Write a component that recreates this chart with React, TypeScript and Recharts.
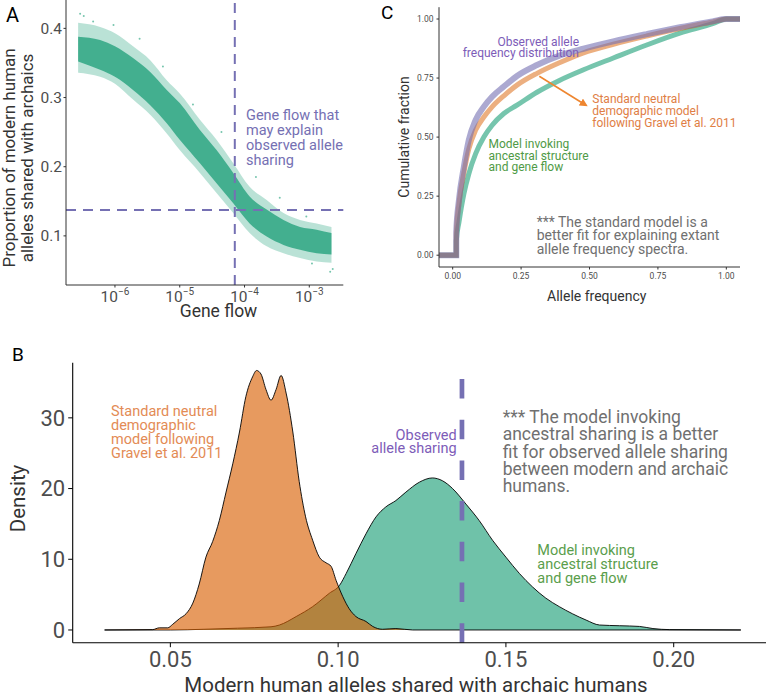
import React from "react";
import {
  ComposedChart, Area, Line, Scatter, XAxis, YAxis, ReferenceLine,
} from "recharts";

const FONT = "Roboto, 'Open Sans', sans-serif";
const PURPLE = "#7570b3";
const GREEN = "#1b9e77";
const ORANGE = "#d95f02";
const TICK = "#4d4d4d";
const TITLE = "#333333";

// ---------- Panel A: gene flow vs proportion shared (cloud read as envelopes)
const aGeneFlow = [2.7e-7, 5.9e-7, 1e-6, 1.9e-6, 3.5e-6, 6.3e-6, 1e-5, 2.05e-5, 3.7e-5, 6.7e-5, 1.2e-4, 2.2e-4, 4e-4, 7.2e-4, 1.3e-3, 2.2e-3];
const aCoreLow = [0.352, 0.340, 0.330, 0.311, 0.289, 0.263, 0.239, 0.205, 0.176, 0.147, 0.118, 0.099, 0.087, 0.080, 0.075, 0.073];
const aCoreHigh = [0.388, 0.383, 0.374, 0.357, 0.337, 0.311, 0.292, 0.253, 0.224, 0.191, 0.157, 0.138, 0.123, 0.113, 0.109, 0.104];
const aOuterLow = [0.336, 0.330, 0.320, 0.297, 0.275, 0.248, 0.224, 0.191, 0.162, 0.133, 0.104, 0.085, 0.075, 0.068, 0.063, 0.061];
const aOuterHigh = [0.408, 0.402, 0.393, 0.374, 0.354, 0.325, 0.306, 0.268, 0.239, 0.205, 0.171, 0.152, 0.133, 0.123, 0.118, 0.113];
const aStrayGf = [2.9e-7, 3.3e-7, 4.6e-7, 9.5e-7, 2.4e-6, 5.5e-6, 1.6e-5, 4.4e-5, 1.5e-4, 3.5e-4, 9e-4, 2.1e-3, 2.3e-3, 1.1e-3];
const aStrayP = [0.421, 0.418, 0.410, 0.405, 0.385, 0.345, 0.290, 0.250, 0.185, 0.155, 0.128, 0.048, 0.052, 0.060];
const aTicks = [1e-6, 1e-5, 1e-4, 1e-3];
const aTickExp = ["\u22126", "\u22125", "\u22124", "\u22123"];
const aYTicks = [0.1, 0.2, 0.3, 0.4];
const aGeneFlowLine = 7.08e-5;
const aShareLine = 0.1376;

// ---------- Panel B: densities of shared alleles
const bStdX = [0.0304, 0.0447, 0.0467, 0.0492, 0.0507, 0.0527, 0.0547, 0.0567, 0.0586, 0.0606, 0.0626, 0.0646, 0.0666, 0.0686, 0.0706, 0.0725, 0.0745, 0.0757, 0.077, 0.0785, 0.080, 0.0815, 0.083, 0.0845, 0.0865, 0.0884, 0.0903, 0.0924, 0.0944, 0.0964, 0.0979, 0.0994, 0.1014, 0.1033, 0.1053, 0.1083, 0.1103, 0.1132, 0.1172, 0.1222, 0.22];
const bStdY = [0, 0.05, 0.3, 0.3, 0.8, 1.6, 2.3, 3.8, 6.5, 10.3, 12.5, 15.5, 19.5, 23.5, 28, 33, 35.8, 36.7, 36.2, 34, 32.5, 34, 36.0, 33.5, 28, 21, 16, 12.7, 10.3, 9.5, 9.0, 7.0, 4.7, 3.0, 1.9, 1.2, 0.5, 0.1, 0.2, 0, 0];
const bAncX = [0.0304, 0.05, 0.06, 0.07, 0.08, 0.0825, 0.0875, 0.0924, 0.0974, 0.1004, 0.1024, 0.1053, 0.1083, 0.1113, 0.1142, 0.1172, 0.1202, 0.1242, 0.1281, 0.1311, 0.1341, 0.1381, 0.142, 0.146, 0.15, 0.154, 0.1579, 0.1619, 0.1659, 0.1698, 0.1739, 0.1779, 0.1839, 0.1898, 0.1938, 0.1988, 0.22];
const bAncY = [0, 0, 0.1, 0.25, 0.45, 0.7, 1.9, 3.3, 5.2, 6.3, 8, 10.8, 13.6, 16, 17.4, 18.3, 19.5, 20.9, 21.5, 21.1, 20, 17.8, 15.5, 12.7, 10.3, 8, 6.1, 4.5, 3.3, 2.3, 1.4, 0.7, 0.6, 0.5, 0.2, 0.05, 0];
const bXTicks = [0.05, 0.10, 0.15, 0.20];
const bYTicks = [0, 10, 20, 30];
const bObserved = 0.1369;

// ---------- Panel C: cumulative allele frequency distributions
const cX = [-0.05, 0.013, 0.0131, 0.023, 0.041, 0.059, 0.084, 0.114, 0.144, 0.187, 0.235, 0.308, 0.39, 0.478, 0.587, 0.709, 0.83, 0.95, 1.0, 1.05];
const cObs = [0, 0, 0.10, 0.234, 0.375, 0.488, 0.573, 0.629, 0.671, 0.714, 0.759, 0.805, 0.845, 0.874, 0.905, 0.936, 0.965, 0.99, 1, 1];
const cStd = [0, 0, 0.09, 0.22, 0.35, 0.45, 0.53, 0.585, 0.628, 0.675, 0.72, 0.77, 0.815, 0.857, 0.893, 0.928, 0.96, 0.988, 1, 1];
const cAnc = [0, 0, 0.06, 0.14, 0.26, 0.345, 0.43, 0.50, 0.55, 0.60, 0.635, 0.69, 0.74, 0.785, 0.835, 0.89, 0.94, 0.98, 1, 1];
const cTicks = [0, 0.25, 0.5, 0.75, 1];

const aBand = aGeneFlow.map((g, i) => ({
  g,
  outer: [aOuterLow[i], aOuterHigh[i]],
  core: [aCoreLow[i], aCoreHigh[i]],
}));
const aStray = aStrayGf.map((g, i) => ({ g, p: aStrayP[i] }));
const bStd = bStdX.map((x, i) => ({ x, d: bStdY[i] }));
const bAnc = bAncX.map((x, i) => ({ x, d: bAncY[i] }));
const toPts = (ys: number[]) => cX.map((x, i) => ({ x, y: ys[i] }));

function PowerTick({ x, y, payload }: any) {
  const i = aTicks.indexOf(payload.value);
  return (
    <text x={x} y={y + 12} textAnchor="middle" fill={TICK} fontSize={15.5} fontFamily={FONT}>
      10<tspan dy={-7} fontSize={10}>{aTickExp[i]}</tspan>
    </text>
  );
}

function PanelA() {
  return (
    <ComposedChart width={360} height={330} data={aBand}
      margin={{ top: 0, right: 16.7, left: 16, bottom: 0 }}>
      <XAxis dataKey="g" type="number" scale="log" domain={[1.754e-7, 3.35e-3]}
        ticks={aTicks} allowDataOverflow height={45} tickSize={2.5}
        tickLine={{ stroke: TITLE }}
        tick={<PowerTick />} axisLine={{ stroke: TITLE, strokeWidth: 1 }} />
      <YAxis type="number" domain={[0.029, 0.441]} ticks={aYTicks} width={50}
        tickSize={2.5} tickMargin={1.5} allowDataOverflow
        tickLine={{ stroke: TITLE }}
        tickFormatter={(v: number) => v.toFixed(1)}
        tick={{ fontSize: 15.5, fill: TICK, fontFamily: FONT }}
        axisLine={{ stroke: TITLE, strokeWidth: 1 }} />
      <Area dataKey="outer" type="monotone" stroke="none" fill={GREEN} fillOpacity={0.3} isAnimationActive={false} />
      <Area dataKey="core" type="monotone" stroke="none" fill={GREEN} fillOpacity={0.75} isAnimationActive={false} />
      <Scatter data={aStray} dataKey="p" fill={GREEN} fillOpacity={0.6}
        shape={(p: any) => <circle cx={p.cx} cy={p.cy} r={1} fill={GREEN} fillOpacity={0.6} />}
        isAnimationActive={false} />
      <ReferenceLine x={aGeneFlowLine} stroke={PURPLE} strokeWidth={2} strokeDasharray="10 7" />
      <ReferenceLine y={aShareLine} stroke={PURPLE} strokeWidth={2} strokeDasharray="10 7" />
    </ComposedChart>
  );
}

function PanelB() {
  return (
    <ComposedChart width={790} height={356}
      margin={{ top: 22.7, right: 17.3, left: 22.7, bottom: 13.3 }}>
      <XAxis dataKey="x" type="number" domain={[0.0209, 0.2295]} ticks={bXTicks}
        allowDataOverflow height={40} tickSize={4.5} tickMargin={4.5}
        tickFormatter={(v: number) => v.toFixed(2)}
        tick={{ fontSize: 22, fill: TICK, fontFamily: FONT }}
        tickLine={{ stroke: "#000" }} axisLine={{ stroke: "#000", strokeWidth: 1.1 }} />
      <YAxis type="number" domain={[-1.8, 37.8]} ticks={bYTicks} width={50}
        allowDataOverflow tickSize={4.5} tickMargin={3}
        tick={{ fontSize: 22, fill: TICK, fontFamily: FONT }}
        tickLine={{ stroke: "#000" }} axisLine={{ stroke: "#000", strokeWidth: 1.1 }} />
      <Area data={bAnc} dataKey="d" type="monotone" baseValue={0} stroke="#000" strokeWidth={0.9}
        fill={GREEN} fillOpacity={0.63} isAnimationActive={false} />
      <Area data={bStd} dataKey="d" type="monotone" baseValue={0} stroke="#000" strokeWidth={0.9}
        fill={ORANGE} fillOpacity={0.63} isAnimationActive={false} />
      <ReferenceLine segment={[{ x: bObserved, y: -1.8 }, { x: bObserved, y: 37.8 }]}
        stroke={PURPLE} strokeWidth={4.7} strokeDasharray="19.5 21.2" />
    </ComposedChart>
  );
}

function PanelC() {
  return (
    <ComposedChart width={386} height={320}
      margin={{ top: 7.2, right: 26, left: 19, bottom: 23 }}>
      <XAxis dataKey="x" type="number" domain={[-0.05, 1.05]} ticks={cTicks}
        allowDataOverflow height={30} tickSize={2.5} tickMargin={3.5}
        tickLine={{ stroke: TITLE }}
        tickFormatter={(v: number) => v.toFixed(2)}
        tick={{ fontSize: 8.5, fill: TICK, fontFamily: FONT }}
        axisLine={{ stroke: TITLE, strokeWidth: 1 }} />
      <YAxis type="number" domain={[-0.05, 1.05]} ticks={cTicks} width={40}
        allowDataOverflow tickSize={2.5} tickMargin={3}
        tickLine={{ stroke: TITLE }}
        tickFormatter={(v: number) => v.toFixed(2)}
        tick={{ fontSize: 8.5, fill: TICK, fontFamily: FONT }}
        axisLine={{ stroke: TITLE, strokeWidth: 1 }} />
      <Line data={toPts(cAnc)} dataKey="y" type="monotone" stroke={GREEN} strokeOpacity={0.6}
        strokeWidth={5} dot={false} isAnimationActive={false} />
      <Line data={toPts(cStd)} dataKey="y" type="monotone" stroke={ORANGE} strokeOpacity={0.5}
        strokeWidth={5} dot={false} isAnimationActive={false} />
      <Line data={toPts(cObs)} dataKey="y" type="monotone" stroke={PURPLE} strokeOpacity={0.6}
        strokeWidth={6} dot={false} isAnimationActive={false} />
    </ComposedChart>
  );
}

function Lines({ x, y, step, lines, ...rest }: any) {
  return (
    <text x={x} y={y} fontFamily={FONT} {...rest}>
      {lines.map((t: string, i: number) => (
        <tspan key={i} x={x} dy={i === 0 ? 0 : step}>{t}</tspan>
      ))}
    </text>
  );
}

function Overlay() {
  return (
    <svg width={766} height={696} style={{ position: "absolute", left: 0, top: 0, pointerEvents: "none" }}>
      <defs>
        <marker id="ah" markerWidth="8" markerHeight="8" refX="6" refY="4" orient="auto" markerUnits="userSpaceOnUse">
          <path d="M0,0 L8,4 L0,8 Z" fill="#ee8630" />
        </marker>
      </defs>
      {/* panel letters */}
      <text x={6} y={22} fontSize={20} fontFamily={FONT} fill="#000">A</text>
      <text x={381} y={19} fontSize={19} fontFamily={FONT} fill="#000">C</text>
      <text x={12} y={361} fontSize={19} fontFamily={FONT} fill="#000">B</text>

      {/* panel A titles and note */}
      <text transform="translate(15,158) rotate(-90)" textAnchor="middle" fontSize={17} fontFamily={FONT} fill={TITLE}>Proportion of modern human</text>
      <text transform="translate(33,158) rotate(-90)" textAnchor="middle" fontSize={17} fontFamily={FONT} fill={TITLE}>alleles shared with archaics</text>
      <text x={218.5} y={317} textAnchor="middle" fontSize={17.5} fontFamily={FONT} fill={TITLE}>Gene flow</text>
      <Lines x={246} y={120} step={15} fontSize={14.5} fill={PURPLE}
        lines={["Gene flow that", "may explain", "observed allele", "sharing"]} />

      {/* panel C titles and notes */}
      <text transform="translate(408.5,137) rotate(-90)" textAnchor="middle" fontSize={14} fontFamily={FONT} fill={TITLE}>Cumulative fraction</text>
      <text x={596.7} y={301} textAnchor="middle" fontSize={14} fontFamily={FONT} fill={TITLE}>Allele frequency</text>
      <Lines x={579} y={45.7} step={11.6} fontSize={12} fill="#7d5cb8" textAnchor="end"
        lines={["Observed allele", "frequency distribution"]} />
      <line x1={539.3} y1={76.3} x2={586} y2={105.2} stroke="#ee8630" strokeWidth={1.6} markerEnd="url(#ah)" />
      <Lines x={592.3} y={103.3} step={11.7} fontSize={12} fill="#e07e45"
        lines={["Standard neutral", "demographic model", "following Gravel et al. 2011"]} />
      <Lines x={488.5} y={148.3} step={11.4} fontSize={12} fill="#4f9a46"
        lines={["Model invoking", "ancestral structure", "and gene flow"]} />
      <Lines x={536.7} y={226.7} step={13.7} fontSize={14} fill="#707070"
        lines={["*** The standard model is a", "better fit for explaining extant", "allele frequency spectra."]} />

      {/* panel B titles and notes */}
      <text transform="translate(24.5,498.5) rotate(-90)" textAnchor="middle" fontSize={20.5} fontFamily={FONT} fill={TITLE}>Density</text>
      <text x={416} y={692} textAnchor="middle" fontSize={20.5} fontFamily={FONT} fill={TITLE}>Modern human alleles shared with archaic humans</text>
      <Lines x={111} y={416} step={14.1} fontSize={14.5} fill="#e38b55"
        lines={["Standard neutral", "demographic", "model following", "Gravel et al. 2011"]} />
      <Lines x={456.7} y={440} step={13} fontSize={14.5} fill="#7d5cb8" textAnchor="end"
        lines={["Observed", "allele sharing"]} />
      <Lines x={502.7} y={423.3} step={17.1} fontSize={17.5} fill="#707070"
        lines={["*** The model invoking", "ancestral sharing is a better", "fit for observed allele sharing", "between modern and archaic", "humans."]} />
      <Lines x={537.3} y={555} step={14.2} fontSize={14.5} fill="#5a9e4c"
        lines={["Model invoking", "ancestral structure", "and gene flow"]} />
    </svg>
  );
}

export default function App() {
  return (
    <div style={{ position: "fixed", left: 0, top: 0, width: 766, height: 696, overflow: "hidden", background: "#fff", fontFamily: FONT }}>
      <div style={{ position: "absolute", left: 0, top: 0 }}><PanelA /></div>
      <div style={{ position: "absolute", left: 380, top: 0 }}><PanelC /></div>
      <div style={{ position: "absolute", left: 0, top: 340 }}><PanelB /></div>
      <Overlay />
    </div>
  );
}
